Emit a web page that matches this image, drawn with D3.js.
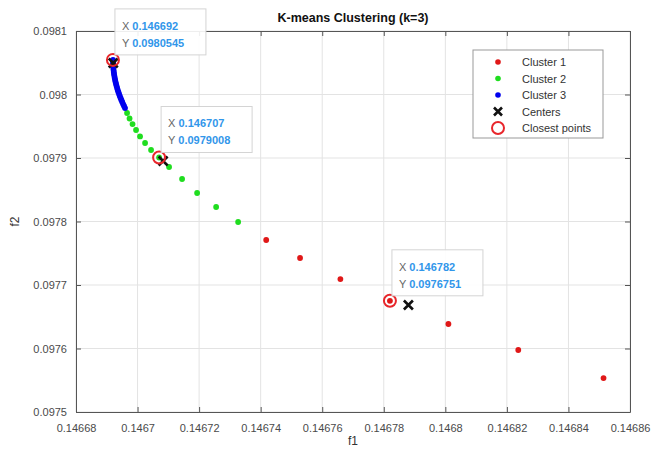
<!DOCTYPE html>
<html><head><meta charset="utf-8">
<script src="https://cdn.jsdelivr.net/npm/d3@7"></script>
<style>
body{margin:0;background:#fff;}
svg{display:block;font-family:Arial,"Liberation Sans",Helvetica,sans-serif;}
</style></head>
<body><svg id="c" width="651" height="454"></svg>
<script>
const titleText = "K-means Clustering (k=3)";
const xLabel = "f1", yLabel = "f2";
const xTicks = [0.14668,0.14670,0.14672,0.14674,0.14676,0.14678,0.14680,0.14682,0.14684,0.14686];
const xTickLabels = ["0.14668","0.1467","0.14672","0.14674","0.14676","0.14678","0.1468","0.14682","0.14684","0.14686"];
const yTicks = [0.0975,0.0976,0.0977,0.0978,0.0979,0.0980,0.0981];
const yTickLabels = ["0.0975","0.0976","0.0977","0.0978","0.0979","0.098","0.0981"];

const cluster1X = [0.1467418,0.1467528,0.1467659,0.146782,0.1468010,0.1468237,0.1468514];
const cluster1Y = [0.0977709,0.0977425,0.0977094,0.0976751,0.0976386,0.0975976,0.0975535];

const cluster2X = [0.14673268,0.14672553,0.14671935,0.14671447,0.14671024,0.146707,0.14670439,0.14670244,0.14670081,0.14669951,0.14669837,0.14669740,0.14669659];
const cluster2Y = [0.0977992,0.0978228,0.0978449,0.0978669,0.0978858,0.0979008,0.0979126,0.0979236,0.0979339,0.0979441,0.0979535,0.0979622,0.0979709];

const cluster3X = [0.14669203,0.14669204,0.14669206,0.14669209,0.14669214,0.14669220,0.14669228,0.14669236,0.14669247,0.14669258,0.14669271,0.14669285,0.14669301,0.14669318,0.14669336,0.14669355,0.14669376,0.14669399,0.14669422,0.14669448,0.14669474,0.14669502,0.14669531,0.14669561,0.14669593];
const cluster3Y = [0.0980543,0.0980512,0.0980480,0.0980449,0.0980417,0.0980386,0.0980354,0.0980323,0.0980291,0.0980260,0.0980228,0.0980197,0.0980165,0.0980134,0.0980102,0.0980071,0.0980039,0.0980008,0.0979976,0.0979945,0.0979913,0.0979882,0.0979850,0.0979819,0.0979787];

const centersX = [0.146788,0.1467083,0.1466921];
const centersY = [0.0976685,0.0978953,0.0980496];

const closestX = [0.146692,0.146707,0.146782];
const closestY = [0.0980545,0.0979008,0.0976751];
const closestXLabels = ["0.146692","0.146707","0.146782"];
const closestYLabels = ["0.0980545","0.0979008","0.0976751"];

const legendLabels = ["Cluster 1","Cluster 2","Cluster 3","Centers","Closest points"];
const clusterColors = ["#e01818","#1fdd1f","#0000ee"];

const svg = d3.select("#c");
const L=76, R=630, T=31, B=412;
const x = d3.scaleLinear().domain([0.14668,0.14686]).range([L,R]);
const y = d3.scaleLinear().domain([0.0975,0.0981]).range([B,T]);

// grid
const grid = svg.append("g");
grid.selectAll(".gx").data(xTicks).enter().append("line")
  .attr("x1",d=>x(d)).attr("x2",d=>x(d)).attr("y1",T).attr("y2",B)
  .attr("stroke","#e3e3e3").attr("stroke-width",1);
grid.selectAll(".gy").data(yTicks).enter().append("line")
  .attr("y1",d=>y(d)).attr("y2",d=>y(d)).attr("x1",L).attr("x2",R)
  .attr("stroke","#e3e3e3").attr("stroke-width",1);

// axes
const axCol = "#555";
function styleAxis(g, showLabels){
  g.select(".domain").attr("stroke",axCol);
  g.selectAll(".tick line").attr("stroke",axCol);
  g.selectAll(".tick text").attr("fill","#4a4a4a").attr("font-size","11px")
   .style("display", showLabels?null:"none");
}
const xi = i => xTickLabels[xTicks.indexOf(i)];
const yi = i => yTickLabels[yTicks.indexOf(i)];
svg.append("g").attr("transform",`translate(0,${B})`)
  .call(d3.axisBottom(x).tickValues(xTicks).tickSize(-5).tickPadding(12).tickSizeOuter(0).tickFormat(xi))
  .call(g=>styleAxis(g,true));
svg.append("g").attr("transform",`translate(0,${T})`)
  .call(d3.axisTop(x).tickValues(xTicks).tickSize(-5).tickSizeOuter(0).tickFormat(""))
  .call(g=>styleAxis(g,false));
svg.append("g").attr("transform",`translate(${L},0)`)
  .call(d3.axisLeft(y).tickValues(yTicks).tickSize(-5).tickPadding(9).tickSizeOuter(0).tickFormat(yi))
  .call(g=>styleAxis(g,true));
svg.append("g").attr("transform",`translate(${R},0)`)
  .call(d3.axisRight(y).tickValues(yTicks).tickSize(-5).tickSizeOuter(0).tickFormat(""))
  .call(g=>styleAxis(g,false));

// labels
svg.append("text").attr("x",(L+R)/2).attr("y",22).attr("text-anchor","middle")
  .attr("font-weight","bold").attr("font-size","12.5px").attr("fill","#111").text(titleText);
svg.append("text").attr("x",(L+R)/2).attr("y",445).attr("text-anchor","middle")
  .attr("font-size","12px").attr("fill","#333").text(xLabel);
svg.append("text").attr("transform",`translate(19,${(T+B)/2}) rotate(-90)`).attr("text-anchor","middle")
  .attr("font-size","12px").attr("fill","#333").text(yLabel);

// points
const clusters = [[cluster1X,cluster1Y],[cluster2X,cluster2Y],[cluster3X,cluster3Y]];
clusters.forEach((c,k)=>{
  svg.append("g").selectAll("circle").data(c[0].map((v,i)=>[v,c[1][i]])).enter().append("circle")
    .attr("cx",d=>x(d[0])).attr("cy",d=>y(d[1])).attr("r",2.9)
    .attr("fill",clusterColors[k]);
});
// centers
const xMark = (g,cx,cy,s)=>{
  g.append("path").attr("d",`M${cx-s},${cy-s}L${cx+s},${cy+s}M${cx-s},${cy+s}L${cx+s},${cy-s}`)
   .attr("stroke","#111").attr("stroke-width",2.6).attr("fill","none");
};
const cg = svg.append("g");
centersX.forEach((v,i)=>xMark(cg,x(v),y(centersY[i]),4.5));
// closest
svg.append("g").selectAll("circle").data(closestX.map((v,i)=>[v,closestY[i]])).enter().append("circle")
  .attr("cx",d=>x(d[0])).attr("cy",d=>y(d[1])).attr("r",6)
  .attr("fill","none").attr("stroke","#e8262b").attr("stroke-width",2);

// datatips
closestX.forEach((v,i)=>{
  const px=x(v), py=y(closestY[i]);
  const bx=px+2, bb=py-5, w=91, h=46;
  const g=svg.append("g");
  g.append("rect").attr("x",bx).attr("y",bb-h).attr("width",w).attr("height",h)
    .attr("fill","#ffffff").attr("fill-opacity",0.9).attr("stroke","#d4d4d4").attr("stroke-width",1);
  const t1=g.append("text").attr("x",bx+7).attr("y",bb-25).attr("font-size","11px");
  t1.append("tspan").attr("fill","#666").text("X ");
  t1.append("tspan").attr("fill","#3196ea").attr("font-weight","bold").text(closestXLabels[i]);
  const t2=g.append("text").attr("x",bx+7).attr("y",bb-8).attr("font-size","11px");
  t2.append("tspan").attr("fill","#666").text("Y ");
  t2.append("tspan").attr("fill","#3196ea").attr("font-weight","bold").text(closestYLabels[i]);
});

// legend
const lg = svg.append("g");
lg.append("rect").attr("x",473).attr("y",50).attr("width",130).attr("height",88)
  .attr("fill","#fff").attr("stroke","#999").attr("stroke-width",1);
const rowY = i => 62 + i*16.5;
legendLabels.forEach((lab,i)=>{
  const cy=rowY(i), ix=498;
  if(i<3) lg.append("circle").attr("cx",ix).attr("cy",cy).attr("r",2.8).attr("fill",clusterColors[i]);
  else if(i===3) xMark(lg,ix,cy,4);
  else lg.append("circle").attr("cx",ix).attr("cy",cy).attr("r",6).attr("fill","none").attr("stroke","#e8262b").attr("stroke-width",2);
  lg.append("text").attr("x",522).attr("y",cy+4).attr("font-size","11px").attr("fill","#333").text(lab);
});
</script></body></html>
